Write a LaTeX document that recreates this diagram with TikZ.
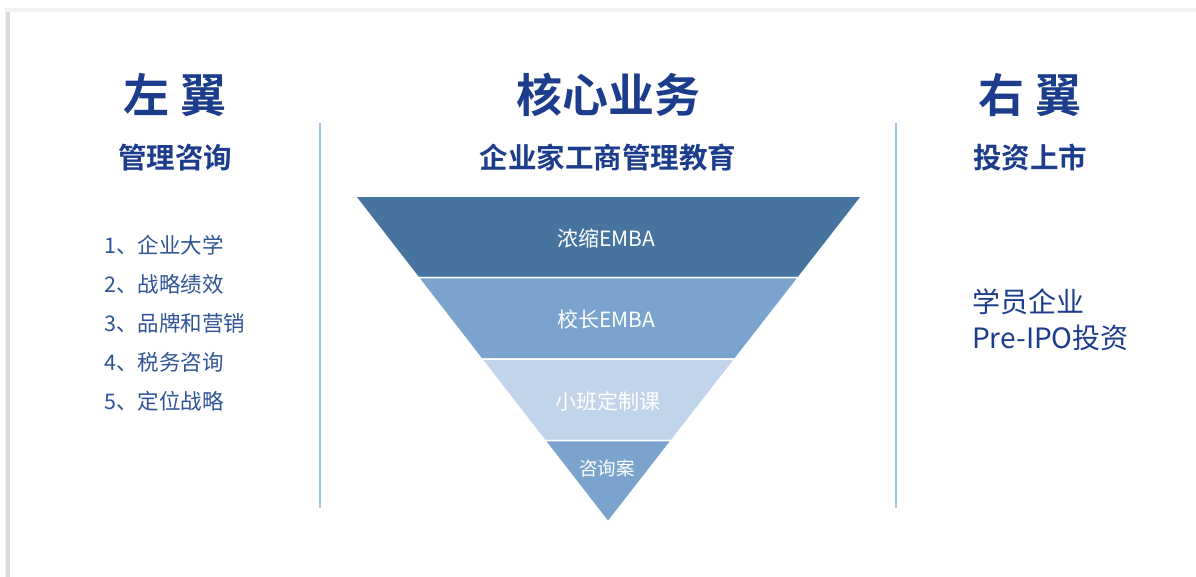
\documentclass[tikz,border=0pt]{standalone}
\usepackage{fontspec}
\setmainfont{Noto Sans CJK SC}[BoldFont={Noto Sans CJK SC Bold}]
\usetikzlibrary{positioning, calc}

\definecolor{titleblue}{RGB}{28,60,140}
\definecolor{listblue}{RGB}{46,84,150}
\definecolor{bandA}{RGB}{70,116,158}
\definecolor{bandB}{RGB}{122,163,206}
\definecolor{bandC}{RGB}{194,212,234}
\definecolor{divider}{RGB}{160,196,228}

\begin{document}
\begin{tikzpicture}[
        x=1pt, y=-1pt,
        every node/.style={inner sep=0pt, align=center},
        wing/.style={text=titleblue, font=\bfseries\fontsize{46}{50}\selectfont},
        subtitle/.style={text=titleblue, font=\bfseries\fontsize{28.5}{32}\selectfont},
        item/.style={text=listblue, anchor=west, font=\fontsize{21.5}{24}\selectfont},
        band/.style={draw=white, line width=1.5pt},
        bandtext/.style={text=white, font=\fontsize{21}{23}\selectfont},
        divline/.style={draw=divider, line width=1.5pt}
        ]

        \useasboundingbox (0,0) rectangle (1196,576);

        % Card with its shadow
        \fill[gray!10] (5,8) rectangle (1200,580);
        \fill[gray!30] (6,12) rectangle (10,580);
        \fill[white] (10,12) rectangle (1200,580);

        % Headings
        \node[wing] (left) at (175,95) {左 翼};
        \node[wing] (core) at (608,95) {核心业务};
        \node[wing] (right) at (1030,95) {右 翼};

        \node[subtitle] (consult) at (175,158) {管理咨询};
        \node[subtitle] (edu) at (608,158) {企业家工商管理教育};
        \node[subtitle] (invest) at (1030,158) {投资上市};

        % Dividers
        \draw[divline] (320,123) -- (320,508);
        \draw[divline] (896,123) -- (896,508);

        % Left list
        \foreach \i/\t in {1/企业大学, 2/战略绩效, 3/品牌和营销, 4/税务咨询, 5/定位战略}
        \node[item] (item\i) at (104,206+39*\i) {\i、\t};

        % Funnel
        \coordinate (tl) at (355,196);
        \coordinate (tr) at (862,196);
        \coordinate (tip) at (608,522);

        \filldraw[band, fill=bandA] (tl) -- (tr) -- ($(tr)!0.25!(tip)$) -- ($(tl)!0.25!(tip)$) -- cycle;
        \filldraw[band, fill=bandB] ($(tl)!0.25!(tip)$) -- ($(tr)!0.25!(tip)$) -- ($(tr)!0.5!(tip)$) -- ($(tl)!0.5!(tip)$) -- cycle;
        \filldraw[band, fill=bandC] ($(tl)!0.5!(tip)$) -- ($(tr)!0.5!(tip)$) -- ($(tr)!0.75!(tip)$) -- ($(tl)!0.75!(tip)$) -- cycle;
        \filldraw[band, fill=bandB] ($(tl)!0.75!(tip)$) -- ($(tr)!0.75!(tip)$) -- (tip) -- cycle;

        \node[bandtext] (emba) at (606,238) {浓缩EMBA};
        \node[bandtext] (head) at (606,319) {校长EMBA};
        \node[bandtext] (small) at (608,401) {小班定制课};
        \node[bandtext, font=\fontsize{18.5}{20}\selectfont] (case) at (607,468) {咨询案};

        % Right text
        \node[text=titleblue, anchor=north west, align=left, font=\fontsize{28}{36}\selectfont] (preipo) at (972,289) {学员企业\\Pre-IPO投资};
\end{tikzpicture}
\end{document}
